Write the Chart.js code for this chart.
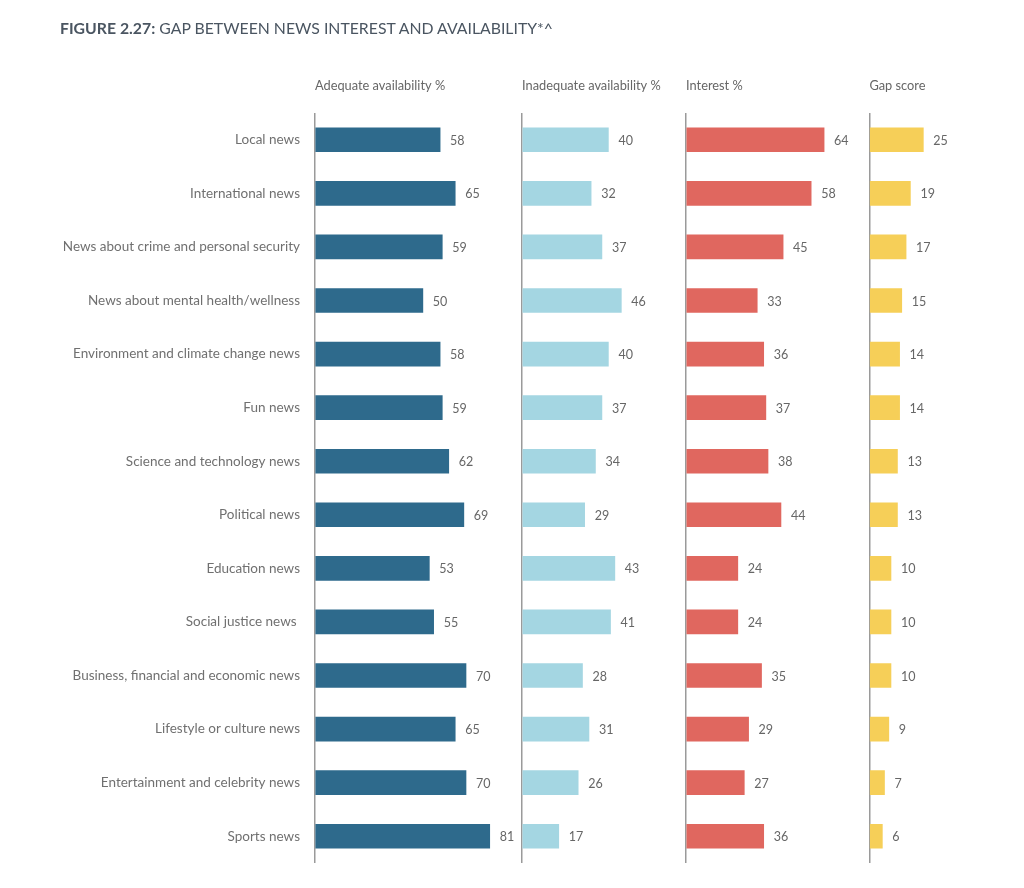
<!DOCTYPE html>
<html>
<head>
<meta charset="utf-8">
<script src="https://cdn.jsdelivr.net/npm/chart.js@4/dist/chart.umd.min.js"></script>
<style>
  body { margin: 0; background: #fff; }
  #wrap { position: relative; width: 1024px; height: 888px; }
  #title {
    position: absolute; left: 60px; top: 18px;
    font-family: Lato, sans-serif; font-size: 15.8px; color: #4a5561;
  }
  #title b { font-weight: 700; }
</style>
</head>
<body>
<div id="wrap">
  <div id="title"><b>FIGURE 2.27:</b> GAP BETWEEN NEWS INTEREST AND AVAILABILITY*^</div>
  <canvas id="myChart"></canvas>
</div>
<script>
// categories (top to bottom)
const categories = [
  'Local news',
  'International news',
  'News about crime and personal security',
  'News about mental health/wellness',
  'Environment and climate change news',
  'Fun news',
  'Science and technology news',
  'Political news',
  'Education news',
  'Social justice news ',
  'Business, financial and economic news',
  'Lifestyle or culture news',
  'Entertainment and celebrity news',
  'Sports news'
];
const adequate   = [58, 65, 59, 50, 58, 59, 62, 69, 53, 55, 70, 65, 70, 81];
const inadequate = [40, 32, 37, 46, 40, 37, 34, 29, 43, 41, 28, 31, 26, 17];
const interest   = [64, 58, 45, 33, 36, 37, 38, 44, 24, 24, 35, 29, 27, 36];
const gapScore   = [25, 19, 17, 15, 14, 14, 13, 13, 10, 10, 10, 9, 7, 6];

const columnTitles = ['Adequate availability %', 'Inadequate availability %', 'Interest %', 'Gap score'];
const columnMax = [96, 76, 85, 61]; // same px per unit in every column

const font = 'Lato';

// little plugin for the numbers next to the bars
const valueLabels = {
  id: 'valueLabels',
  afterDatasetsDraw(chart) {
    const ctx = chart.ctx;
    ctx.save();
    ctx.font = '12.5px ' + font;
    ctx.fillStyle = '#666';
    ctx.textAlign = 'left';
    ctx.textBaseline = 'middle';
    chart.data.datasets.forEach((ds, i) => {
      chart.getDatasetMeta(i).data.forEach((bar, j) => {
        ctx.fillText(ds.data[j], bar.x + 10, bar.y + 1);
      });
    });
    ctx.restore();
  }
};

// one x axis per column, stacked side by side on top
function columnAxis(i) {
  return {
    type: 'linear',
    position: 'top',
    stack: 'cols',
    stackWeight: columnMax[i],
    min: 0,
    max: columnMax[i],
    ticks: { display: false, stepSize: 200 },
    border: { display: false },
    grid: {
      drawTicks: false,
      lineWidth: 1.5,
      color: c => (c.tick && c.tick.value === 0) ? '#9a9a9a' : 'rgba(0,0,0,0)'
    },
    title: {
      display: true,
      text: columnTitles[i],
      align: 'start',
      color: '#666',
      font: { family: font, size: 12.8 },
      padding: { top: 78, bottom: 0 }
    },
    afterFit: s => { s.height = 113; }
  };
}

const colors = ['#2e6a8c', '#a4d6e2', '#e0675f', '#f6cf58'];
const series = [adequate, inadequate, interest, gapScore];

new Chart(document.getElementById('myChart'), {
  type: 'bar',
  data: {
    labels: categories,
    datasets: series.map((d, i) => ({
      label: columnTitles[i],
      data: d,
      xAxisID: 'x' + i,
      backgroundColor: colors[i],
      barThickness: 24,
      grouped: false
    }))
  },
  options: {
    indexAxis: 'y',
    responsive: true,
    maintainAspectRatio: false,
    animation: false,
    layout: { padding: { top: 0, right: 23, bottom: 25, left: 0 } },
    plugins: {
      legend: { display: false },
      tooltip: { enabled: false }
    },
    scales: {
      // top boxes get laid out in reverse, so last column first
      x3: columnAxis(3),
      x2: columnAxis(2),
      x1: columnAxis(1),
      x0: columnAxis(0),
      y: {
        type: 'category',
        grid: { display: false, drawTicks: false },
        border: { display: false },
        ticks: {
          color: '#707070',
          padding: 15,
          font: { family: font, size: 13.5 }
        },
        afterFit: s => { s.width = 315; }
      }
    }
  },
  plugins: [valueLabels]
});
</script>
</body>
</html>
